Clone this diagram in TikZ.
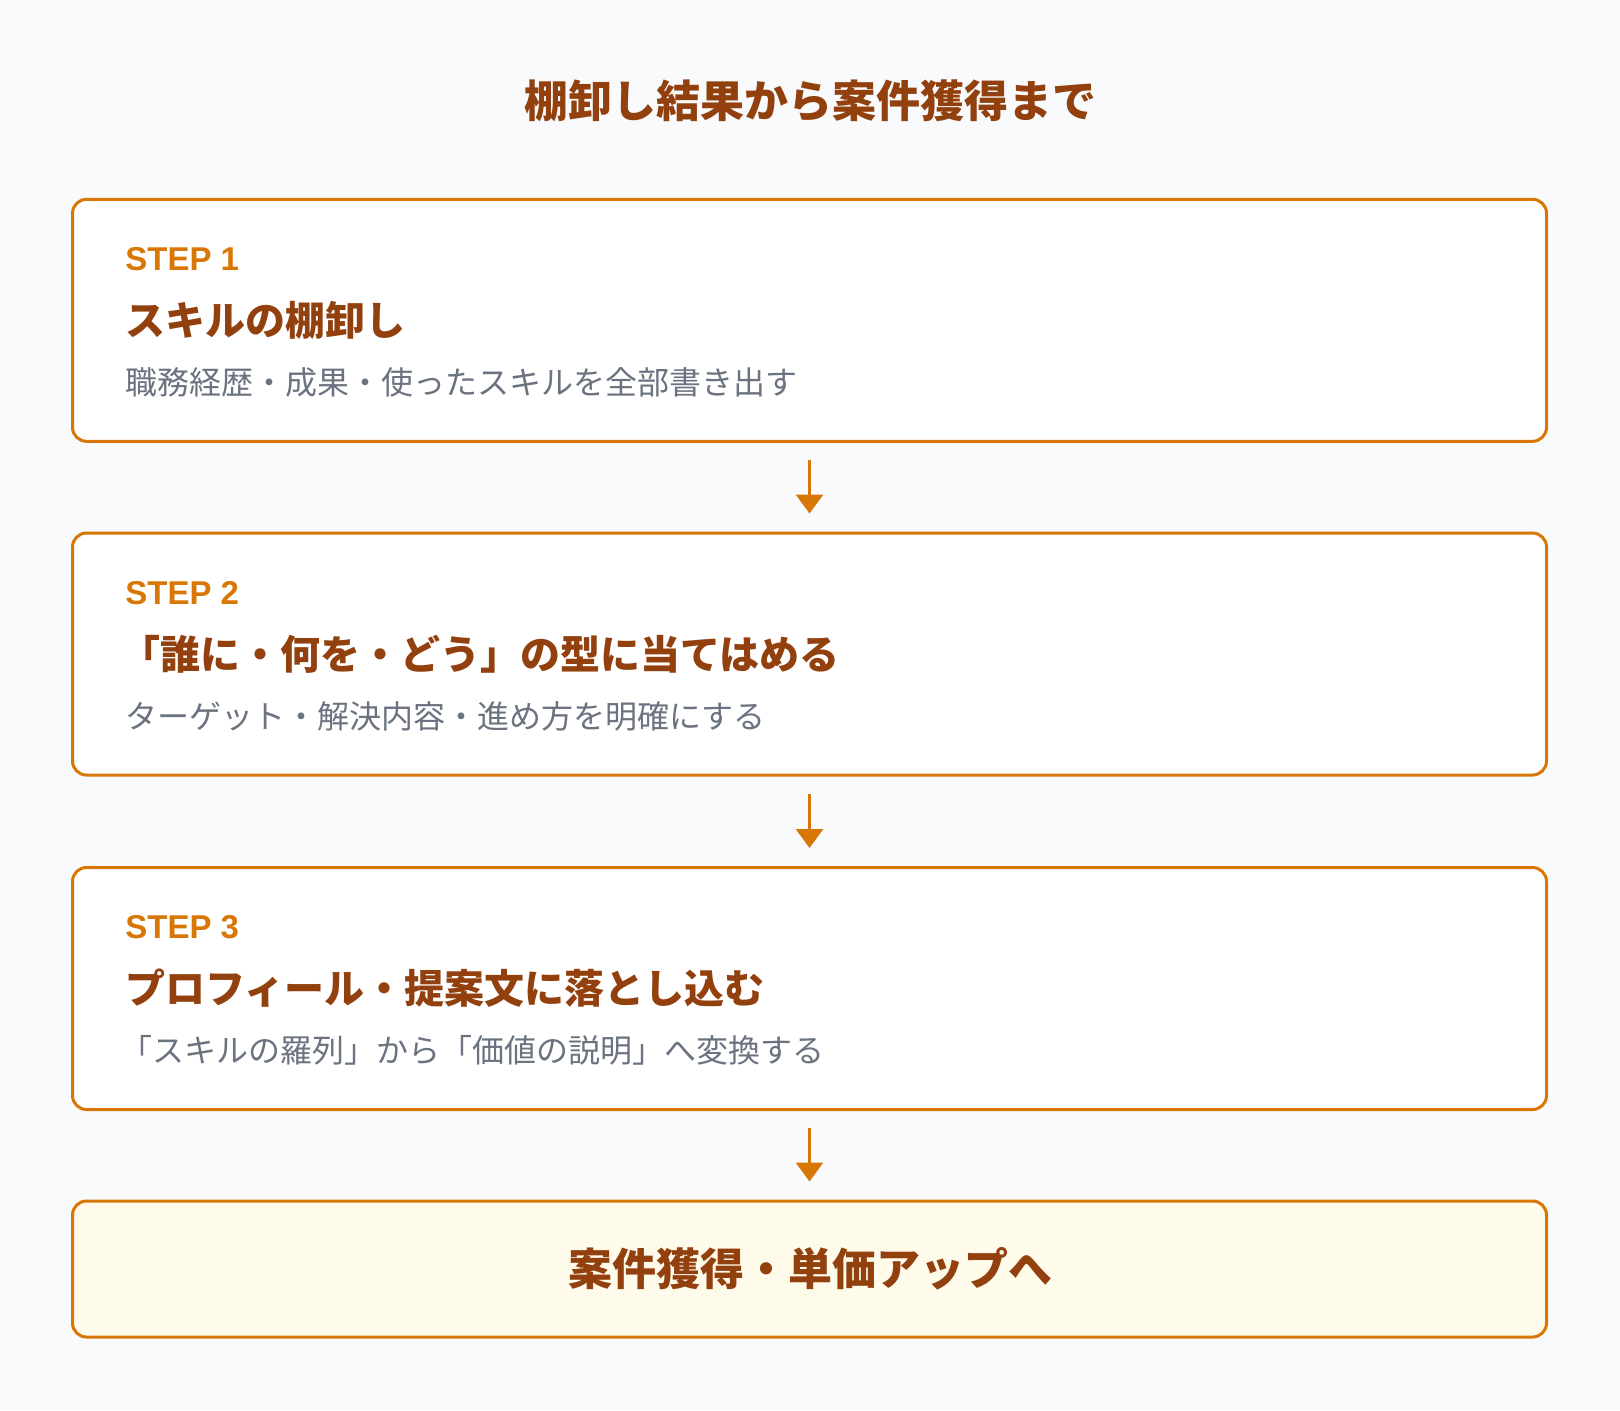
\documentclass[tikz,border=0pt]{standalone}
\usepackage{fontspec}
\setmainfont{Noto Sans CJK JP}
\newfontfamily\steplatin{Liberation Sans}
\usetikzlibrary{arrows.meta}
\definecolor{bgc}{HTML}{F8FAFC}
\definecolor{orangec}{HTML}{D97706}
\definecolor{brownc}{HTML}{92400E}
\definecolor{grayc}{HTML}{6B7280}
\definecolor{finalfill}{HTML}{FFFBEB}
\tikzset{
  stepbox/.style={draw=orangec, line width=1.5pt, rounded corners=7pt, fill=white,
    minimum width=737pt, minimum height=121pt, inner sep=0pt},
  finalbox/.style={stepbox, fill=finalfill, minimum height=68pt},
  steplabel/.style={anchor=west, inner sep=0pt, text=orangec, font=\steplatin\fontsize{16.5}{19}\selectfont\bfseries},
  headlabel/.style={anchor=west, inner sep=0pt, text=brownc, font=\fontsize{20}{24}\selectfont\bfseries},
  desclabel/.style={anchor=west, inner sep=0pt, text=grayc, font=\fontsize{16}{19}\selectfont},
  flow/.style={draw=orangec, line width=1.5pt, -{Triangle[width=13.5pt,length=9.5pt]}}
}
\begin{document}
\begin{tikzpicture}[x=0.5pt, y=-0.5pt]
\fill[bgc] (0,0) rectangle (1620,1410);
\useasboundingbox (0,0) rectangle (1620,1410);

\node[inner sep=0pt, text=brownc, font=\fontsize{22}{26}\selectfont\bfseries] (title) at (810,101) {棚卸し結果から案件獲得まで};

\node[stepbox] (b1) at (809.5,320.3) {};
\node[stepbox] (b2) at (809.5,654) {};
\node[stepbox] (b3) at (809.5,988.5) {};
\node[finalbox] (b4) at (809.5,1269) {};

\node[steplabel] (s1) at (125,259) {STEP 1};
\node[headlabel] (h1) at (125,320) {スキルの棚卸し};
\node[desclabel] (d1) at (125,382) {職務経歴・成果・使ったスキルを全部書き出す};

\node[steplabel] (s2) at (125,593) {STEP 2};
\node[headlabel] (h2) at (120,654) {「誰に・何を・どう」の型に当てはめる};
\node[desclabel] (d2) at (125,716) {ターゲット・解決内容・進め方を明確にする};

\node[steplabel] (s3) at (125,927) {STEP 3};
\node[headlabel] (h3) at (125,988) {プロフィール・提案文に落とし込む};
\node[desclabel] (d3) at (120,1050) {「スキルの羅列」から「価値の説明」へ変換する};

\node[inner sep=0pt, text=brownc, font=\fontsize{22}{26}\selectfont\bfseries] (f) at (810,1269) {案件獲得・単価アップへ};

\draw[flow, shorten <=8.5pt, shorten >=9pt] (b1.south) -- (b2.north);
\draw[flow, shorten <=8.5pt, shorten >=9pt] (b2.south) -- (b3.north);
\draw[flow, shorten <=8.5pt, shorten >=9pt] (b3.south) -- (b4.north);
\end{tikzpicture}
\end{document}
